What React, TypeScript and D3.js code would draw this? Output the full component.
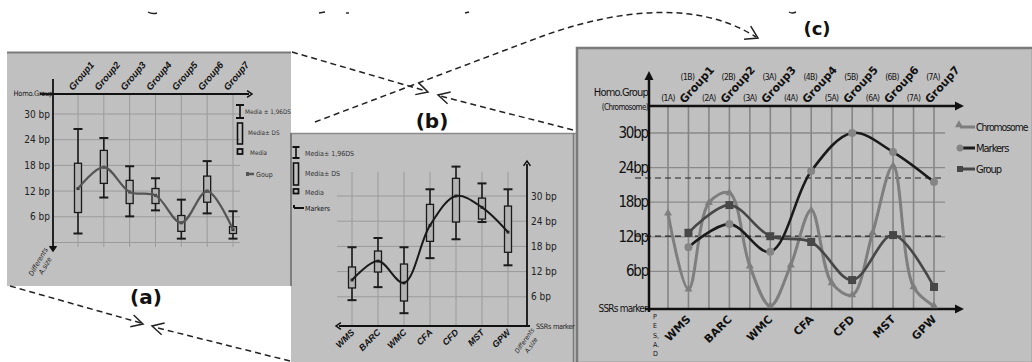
import React from "react";
import * as d3 from "d3";

// ---------- DATA ----------
const groups = ["Group1", "Group2", "Group3", "Group4", "Group5", "Group6", "Group7"];
const aMedian = [12.6, 17.6, 11.8, 11, 4.6, 12, 3];
const aBoxLow = [7, 13.8, 9.1, 9.1, 2.6, 9.4, 2.1];
const aBoxHigh = [18.5, 21.5, 14.5, 12.6, 6.3, 15.5, 3.7];
const aWhiskLow = [2.1, 10.5, 6.1, 7.5, 0.9, 6.8, 0.9];
const aWhiskHigh = [26.5, 24.4, 17.8, 15, 10, 19, 7.3];

const markers = ["WMS", "BARC", "WMC", "CFA", "CFD", "MST", "GPW"];
const bMedian = [10, 14.5, 9.3, 23, 30, 27.3, 21.4];
const bBoxLow = [8.1, 11.9, 5, 19.2, 23.8, 24.5, 16.6];
const bBoxHigh = [13.1, 16.9, 13.8, 28, 34.2, 29.5, 27.6];
const bWhiskLow = [5.2, 8.3, 2.1, 15.2, 19.7, 23.8, 13.5];
const bWhiskHigh = [17.8, 20, 17.8, 31.6, 37, 33, 31.6];

const yTicks = [6, 12, 18, 24, 30];
const yTickLabelsA = ["6 bp", "12 bp", "18 bp", "24 bp", "30 bp"];
const yTickLabelsC = ["6bp", "12bp", "18bp", "24bp", "30bp"];

const slots = ["1A", "G1", "2A", "G2", "3A", "G3", "4A", "G4", "5A", "G5", "6A", "G6", "7A", "G7"];
const lowerChromLabels = ["(1A)", "(2A)", "(3A)", "(4A)", "(5A)", "(6A)", "(7A)"];
const upperChromLabels = ["(1B)", "(2B)", "(3A)", "(4B)", "(5B)", "(6B)", "(7A)"];
const chromValues = [16.1, 2.9, 17.9, 19.6, 6.9, 0, 7.1, 16.6, 4, 1.9, 12.7, 24.3, 3.3, 0];
const cMarkerValues = [10.2, 14.2, 9.4, 23.4, 30, 26.7, 21.5];
const cGroupValues = [12.7, 17.5, 12.1, 11.1, 4.5, 12.3, 3.3];
const cRefLines = [22.2, 12.1];
const stackedLetters = ["P", "E", "S,", "A.", "D"];

const NARROW = "'Liberation Sans Narrow', 'DejaVu Sans Condensed', sans-serif";
const BOLD = "'DejaVu Sans', sans-serif";
const BG = "#c0c0c0";

function chevron(tip: [number, number], from: [number, number], len = 12, spread = 28) {
  const ang = Math.atan2(tip[1] - from[1], tip[0] - from[0]);
  const a1 = ang + Math.PI - (spread * Math.PI) / 180;
  const a2 = ang + Math.PI + (spread * Math.PI) / 180;
  return `M${tip[0] + len * Math.cos(a1)},${tip[1] + len * Math.sin(a1)}L${tip[0]},${tip[1]}L${tip[0] + len * Math.cos(a2)},${tip[1] + len * Math.sin(a2)}`;
}

function Boxes({ cats, x, y, lo, hi, wlo, whi, med, bw = 7, cw = 9 }: any) {
  return (
    <g>
      {cats.map((c: string, i: number) => {
        const cx = x(c);
        return (
          <g key={c} stroke="#1a1a1a" strokeWidth={1.6}>
            <line x1={cx} x2={cx} y1={y(whi[i])} y2={y(wlo[i])} />
            <line x1={cx - cw / 2} x2={cx + cw / 2} y1={y(whi[i])} y2={y(whi[i])} strokeWidth={2} />
            <line x1={cx - cw / 2} x2={cx + cw / 2} y1={y(wlo[i])} y2={y(wlo[i])} strokeWidth={2} />
            <rect x={cx - bw / 2} width={bw} y={y(hi[i])} height={y(lo[i]) - y(hi[i])} fill="#b3b3b3" strokeWidth={1.3} />
            <rect x={cx - 1.5} y={y(med[i]) - 1.5} width={3} height={3} fill="#333" stroke="none" />
          </g>
        );
      })}
    </g>
  );
}

export default function App() {
  const xA = d3.scalePoint<string>().domain(groups).range([78, 233]);
  const yA = d3.scaleLinear().domain([0, 30]).range([242.5, 114]);
  const xB = d3.scalePoint<string>().domain(markers).range([352, 508]);
  const yB = d3.scaleLinear().domain([0, 30]).range([322, 196]);
  const xC = d3.scalePoint<string>().domain(slots).range([668, 934]);
  const yC = d3.scaleLinear().domain([0, 30]).range([306, 133]);
  const groupSlots = slots.filter((_, i) => i % 2 === 1);
  const chromSlots = slots.filter((_, i) => i % 2 === 0);

  const curve = d3.curveCatmullRom.alpha(0.5);
  const lineA = d3.line<number>().x((_, i) => xA(groups[i])!).y((d) => yA(d)).curve(curve);
  const lineB = d3.line<number>().x((_, i) => xB(markers[i])!).y((d) => yB(d)).curve(curve);
  const lineCg = d3.line<number>().x((_, i) => xC(groupSlots[i])!).y((d) => yC(d)).curve(curve);
  const lineCc = d3.line<number>().x((_, i) => xC(slots[i])!).y((d) => yC(d)).curve(curve);

  const dash = { stroke: "#222", strokeWidth: 1.5, strokeDasharray: "6,4", fill: "none" } as any;
  const arrowStyle = { stroke: "#222", strokeWidth: 1.5, fill: "none" } as any;

  const triPath = d3.symbol(d3.symbolTriangle, 28)()!;

  return (
    <div style={{ position: "absolute", left: 0, top: 0 }}>
      <svg width={1032} height={362} style={{ display: "block", background: "#fff" }}>
        {/* ===== Panel A ===== */}
        <rect x={7} y={52} width={284} height={234} fill={BG} />
        <line x1={7} x2={291} y1={52.5} y2={52.5} stroke="#7a7a7a" strokeWidth={2} />
        {yTicks.concat([0]).map((t) => (
          <line key={t} x1={53} x2={240} y1={yA(t)} y2={yA(t)} stroke="#9a9a9a" strokeWidth={1} />
        ))}
        {groups.map((g) => (
          <line key={g} x1={xA(g)} x2={xA(g)} y1={94} y2={247} stroke="#9a9a9a" strokeWidth={1} />
        ))}
        <line x1={53} x2={53} y1={79} y2={248} stroke="#111" strokeWidth={1.8} />
        <path d={chevron([53, 251], [53, 200], 6, 35)} fill="#111" stroke="#111" strokeWidth={1.5} />
        <line x1={40} x2={249} y1={94} y2={94} stroke="#111" strokeWidth={1.8} />
        <path d={chevron([252, 94], [200, 94], 6, 35)} fill="none" stroke="#111" strokeWidth={1.5} />
        <text x={53} y={96} fontSize={7.5} fontFamily={NARROW} textAnchor="end" fill="#222" letterSpacing={-0.3}>Homo.Group</text>
        {yTicks.map((t, i) => (
          <text key={t} x={50} y={yA(t) + 3.5} fontSize={10} fontFamily={NARROW} textAnchor="end" fill="#222">{yTickLabelsA[i]}</text>
        ))}
        {groups.map((g) => (
          <text key={g} transform={`translate(${xA(g)! - 5},${91}) rotate(-50)`} fontSize={9.5} fontWeight="bold" fontStyle="italic" fontFamily="'Liberation Sans', sans-serif" fill="#111">{g}</text>
        ))}
        <Boxes cats={groups} x={xA} y={yA} lo={aBoxLow} hi={aBoxHigh} wlo={aWhiskLow} whi={aWhiskHigh} med={aMedian} />
        <path d={lineA(aMedian)!} fill="none" stroke="#555" strokeWidth={2.2} />
        <g stroke="#111" strokeWidth={1.6}>
          <line x1={240} x2={240} y1={105} y2={118} />
          <line x1={236} x2={244} y1={105} y2={105} strokeWidth={2} />
          <line x1={236} x2={244} y1={118} y2={118} strokeWidth={2} />
          <rect x={237.5} y={123} width={5} height={21} fill="none" />
          <rect x={237.5} y={149} width={5} height={5} fill="none" strokeWidth={1.8} />
          <line x1={248} x2={254} y1={174} y2={174} strokeWidth={2.5} stroke="#555" />
          <rect x={246} y={172} width={3} height={4} fill="#555" stroke="none" />
        </g>
        <g fontSize={6.3} fontFamily={NARROW} fill="#333">
          <text x={245} y={113.5}>Media ± 1,96DS</text>
          <text x={248} y={135}>Media± DS</text>
          <text x={250} y={154.5}>Media</text>
          <text x={256} y={176.5} fontSize={7}>Goup</text>
        </g>
        <g transform="translate(42,264) rotate(-60)" fontSize={7} fontStyle="italic" fontFamily={NARROW} fill="#222" textAnchor="middle">
          <text x={0} y={-2}>Differents</text>
          <text x={0} y={6}>A.size</text>
        </g>

        {/* ===== Panel B ===== */}
        <rect x={291} y={133} width={286} height={230} fill={BG} />
        <line x1={291} x2={576} y1={133.5} y2={133.5} stroke="#8a8a8a" strokeWidth={1.5} />
        <line x1={291} x2={291} y1={133} y2={286} stroke="#6a6a6a" strokeWidth={1.5} />
        <line x1={573.5} x2={573.5} y1={133} y2={362} stroke="#7a7a7a" strokeWidth={1.5} />
        {yTicks.map((t) => (
          <line key={t} x1={337} x2={527} y1={yB(t)} y2={yB(t)} stroke="#9a9a9a" strokeWidth={1} />
        ))}
        {markers.map((m) => (
          <line key={m} x1={xB(m)} x2={xB(m)} y1={172} y2={326} stroke="#9a9a9a" strokeWidth={1} />
        ))}
        <line x1={527} x2={527} y1={164} y2={326} stroke="#111" strokeWidth={1.8} />
        <path d={chevron([527, 161], [527, 200], 6, 35)} fill="none" stroke="#111" strokeWidth={1.5} />
        <line x1={339} x2={530} y1={326} y2={326} stroke="#111" strokeWidth={1.8} />
        <path d={chevron([336, 326], [400, 326], 6, 35)} fill="none" stroke="#111" strokeWidth={1.5} />
        {yTicks.map((t, i) => (
          <text key={t} x={531} y={yB(t) + 3.5} fontSize={10} fontFamily={NARROW} fill="#222">{yTickLabelsA[i]}</text>
        ))}
        <text x={536} y={329} fontSize={7.3} fontFamily={NARROW} fill="#222" letterSpacing={-0.3}>SSRs marker</text>
        {markers.map((m) => (
          <text key={m} transform={`translate(${xB(m)! + 3},${333}) rotate(-45)`} textAnchor="end" fontSize={9} fontWeight="bold" fontStyle="italic" fontFamily="'Liberation Sans', sans-serif" fill="#111">{m}</text>
        ))}
        <g transform="translate(528,343) rotate(-55)" fontSize={6.5} fontStyle="italic" fontFamily={NARROW} fill="#222" textAnchor="middle">
          <text x={0} y={-2}>Differents</text>
          <text x={0} y={6}>A.size</text>
        </g>
        <Boxes cats={markers} x={xB} y={yB} lo={bBoxLow} hi={bBoxHigh} wlo={bWhiskLow} whi={bWhiskHigh} med={bMedian} />
        <path d={lineB(bMedian)!} fill="none" stroke="#1a1a1a" strokeWidth={2} />
        <g stroke="#111" strokeWidth={1.6}>
          <line x1={296} x2={296} y1={147} y2={158} />
          <line x1={292.5} x2={299.5} y1={147} y2={147} strokeWidth={2} />
          <line x1={292.5} x2={299.5} y1={158} y2={158} strokeWidth={2} />
          <rect x={293.5} y={163} width={5} height={22} fill="none" />
          <rect x={293.5} y={189} width={5} height={4.5} fill="none" strokeWidth={1.8} />
          <line x1={294} x2={304} y1={208} y2={208} strokeWidth={2} />
          <rect x={293} y={205} width={2} height={3} fill="#111" stroke="none" />
        </g>
        <g fontSize={7} fontFamily={NARROW} fill="#333">
          <text x={305} y={156}>Media± 1,96DS</text>
          <text x={305} y={176}>Media± DS</text>
          <text x={305} y={195}>Media</text>
          <text x={305} y={211} fill="#111">Markers</text>
        </g>

        {/* ===== Panel C ===== */}
        <rect x={577} y={48} width={456} height={315} fill={BG} stroke="#7a7a7a" strokeWidth={2.5} />
        {yTicks.map((t) => (
          <line key={t} x1={649} x2={945} y1={yC(t)} y2={yC(t)} stroke="#8a8a8a" strokeWidth={1.3} />
        ))}
        {slots.map((s) => (
          <line key={s} x1={xC(s)} x2={xC(s)} y1={106} y2={309} stroke="#858585" strokeWidth={1.6} />
        ))}
        {cRefLines.map((v) => (
          <line key={v} x1={635} x2={945} y1={yC(v)} y2={yC(v)} stroke="#222" strokeWidth={1.2} strokeDasharray="6,4" />
        ))}
        <line x1={649} x2={649} y1={76} y2={312} stroke="#111" strokeWidth={2.5} />
        <path d="M649,71 L644.5,80 L653.5,80 Z" fill="#111" />
        <line x1={649} x2={958} y1={106} y2={106} stroke="#111" strokeWidth={2.5} />
        <path d="M964,106 L955,101.5 L955,110.5 Z" fill="#111" />
        <line x1={645} x2={958} y1={309} y2={309} stroke="#111" strokeWidth={2.5} />
        <path d="M964,309 L955,304.5 L955,313.5 Z" fill="#111" />
        <text x={648} y={96} fontSize={11} fontFamily={NARROW} textAnchor="end" fill="#111" letterSpacing={-0.8}>Homo.Group</text>
        <text x={648} y={110} fontSize={8} fontFamily={NARROW} textAnchor="end" fill="#111" letterSpacing={-0.6}>(Chromosome)</text>
        {yTicks.map((t, i) => (
          <text key={t} x={648} y={yC(t) + 5} fontSize={15} fontFamily={NARROW} textAnchor="end" fill="#111" letterSpacing={-1.2}>{yTickLabelsC[i]}</text>
        ))}
        <text x={647} y={312} fontSize={10} fontFamily={NARROW} textAnchor="end" fill="#111" letterSpacing={-0.8}>SSRs marker</text>
        {stackedLetters.map((ch, i) => (
          <text key={i} x={653} y={319 + i * 9.3} fontSize={7} fontFamily={NARROW} fill="#111">{ch}</text>
        ))}
        {chromSlots.map((s, i) => (
          <text key={s} x={xC(s)} y={101} fontSize={8.5} fontFamily={NARROW} textAnchor="middle" fill="#111" letterSpacing={-0.6}>{lowerChromLabels[i]}</text>
        ))}
        {groupSlots.map((s, i) => (
          <g key={s}>
            <text x={xC(s)! - 1} y={80} fontSize={8.5} fontFamily={NARROW} textAnchor="middle" fill="#111" letterSpacing={-0.6}>{upperChromLabels[i]}</text>
            <text transform={`translate(${xC(s)! - 4},${104}) rotate(-48)`} fontSize={11} fontWeight="bold" fontFamily={BOLD} fill="#111">{groups[i]}</text>
            <text transform={`translate(${xC(s)! + 3},${320}) rotate(-45)`} textAnchor="end" fontSize={11} fontWeight="bold" fontFamily={BOLD} fill="#111">{markers[i]}</text>
          </g>
        ))}
        <path d={lineCc(chromValues)!} fill="none" stroke="#7e7e7e" strokeWidth={3} />
        {slots.map((s, i) => (
          <path key={s} d={triPath} transform={`translate(${xC(s)},${yC(chromValues[i])})`} fill="#7e7e7e" />
        ))}
        <path d={lineCg(cGroupValues)!} fill="none" stroke="#474747" strokeWidth={2.6} />
        {groupSlots.map((s, i) => (
          <rect key={s} x={xC(s)! - 4} y={yC(cGroupValues[i]) - 4} width={8} height={8} fill="#474747" />
        ))}
        <path d={lineCg(cMarkerValues)!} fill="none" stroke="#1a1a1a" strokeWidth={2.6} />
        {groupSlots.map((s, i) => (
          <circle key={s} cx={xC(s)} cy={yC(cMarkerValues[i])} r={4} fill="#858585" />
        ))}
        <line x1={960} x2={975} y1={127} y2={127} stroke="#7e7e7e" strokeWidth={3} />
        <path d={triPath} transform="translate(959,125)" fill="#7e7e7e" />
        <line x1={960} x2={975} y1={148} y2={148} stroke="#1a1a1a" strokeWidth={3} />
        <circle cx={960} cy={148} r={3.5} fill="#858585" />
        <line x1={960} x2={975} y1={169} y2={169} stroke="#474747" strokeWidth={3} />
        <rect x={957} y={166} width={6} height={6} fill="#474747" />
        <g fontSize={11} fontFamily={NARROW} fill="#111" letterSpacing={-1}>
          <text x={976} y={131} fontSize={10.3}>Chromosome</text>
          <text x={976} y={152}>Markers</text>
          <text x={976} y={173}>Group</text>
        </g>

        {/* ===== Labels ===== */}
        <text x={146} y={304} fontSize={20} fontWeight="bold" fontFamily={BOLD} textAnchor="middle" fill="#111">(a)</text>
        <text x={432} y={128} fontSize={20} fontWeight="bold" fontFamily={BOLD} textAnchor="middle" fill="#111">(b)</text>
        <text x={817} y={35} fontSize={18} fontWeight="bold" fontFamily={BOLD} textAnchor="middle" fill="#111">(c)</text>

        {/* ===== Dashed connectors ===== */}
        <path d="M292,52 L426,91" {...dash} />
        <path d={chevron([428, 92], [292, 52], 13, 28)} {...arrowStyle} />
        <path d="M573,130 L440,96" {...dash} />
        <path d={chevron([438, 95], [573, 130], 13, 28)} {...arrowStyle} />
        <path d="M315,122 L540,37 C600,15 690,-5 756,37" {...dash} />
        <path d={chevron([758, 38], [690, 4], 14, 32)} {...arrowStyle} />
        <path d="M10,286 L141,323" {...dash} />
        <path d={chevron([143, 324], [10, 286], 13, 28)} {...arrowStyle} />
        <path d="M290,361 L154,327" {...dash} />
        <path d={chevron([152, 326], [290, 361], 13, 28)} {...arrowStyle} />
        <g stroke="#222" strokeWidth={1.4} fill="none">
          <path d="M148,12 Q152,14.5 157,13" />
          <line x1={319} x2={325} y1={13} y2={12} />
          <line x1={346} x2={349} y1={13} y2={13} />
          <line x1={465} x2={469} y1={13} y2={12} />
          <path d="M789,12 Q792,14 796,12" />
        </g>
      </svg>
    </div>
  );
}
